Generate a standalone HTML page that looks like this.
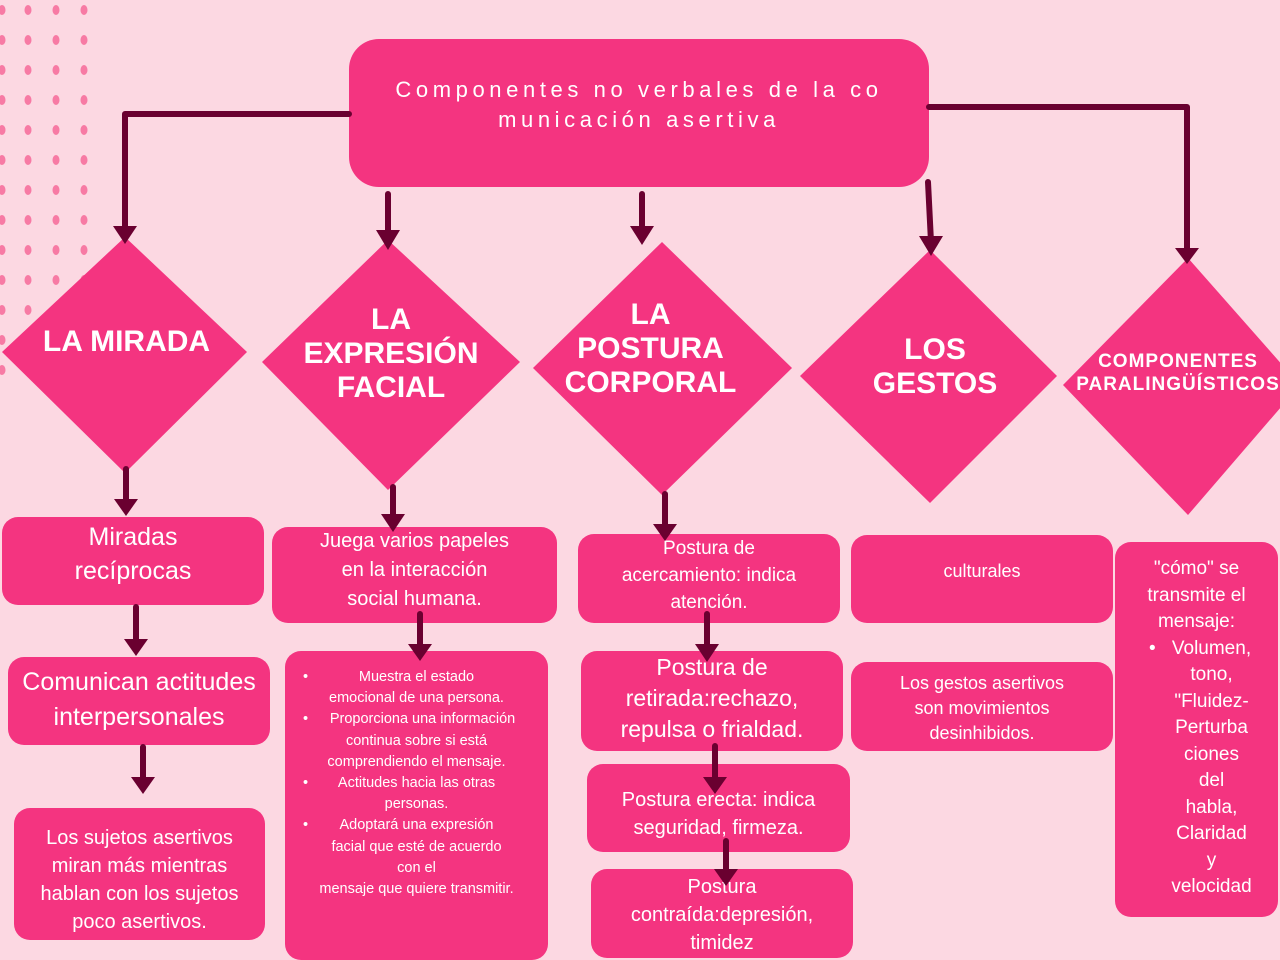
<!DOCTYPE html>
<html><head><meta charset="utf-8"><style>
body{margin:0;width:1280px;height:960px;overflow:hidden;background:#fcd8e2;position:relative;font-family:"Liberation Sans",sans-serif;color:#fff}
.b{position:absolute;background:#f43480;border-radius:16px;text-align:center;box-sizing:border-box}
.b div{white-space:nowrap}
.t{position:absolute;text-align:center;font-weight:bold;color:#fff;font-size:30px;line-height:34px;white-space:nowrap}
svg{position:absolute;left:0;top:0}
</style></head><body>
<svg width="1280" height="960">
<g fill="#f77aa4">
<g id="d">
<ellipse cx="2" cy="10" rx="3.5" ry="5"/><ellipse cx="28" cy="10" rx="3.5" ry="5"/><ellipse cx="56" cy="10" rx="3.5" ry="5"/><ellipse cx="84" cy="10" rx="3.5" ry="5"/>
</g>
<use href="#d" y="30"/><use href="#d" y="60"/><use href="#d" y="90"/><use href="#d" y="120"/><use href="#d" y="150"/><use href="#d" y="180"/><use href="#d" y="210"/><use href="#d" y="240"/><use href="#d" y="270"/><use href="#d" y="300"/><use href="#d" y="330"/><use href="#d" y="360"/>
</g>
<g fill="#f43480">
<polygon points="125,237 247,352 125,473 2,352"/>
<polygon points="388,240 520,362 388,490 262,362"/>
<polygon points="662,242 792,368 662,495 533,368"/>
<polygon points="930,250 1057,376 930,503 800,376"/>
<polygon points="1188,258 1300,385 1188,515 1063,385"/>
</g>
</svg>
<div class="b" style="left:349px;top:39px;width:580px;height:148px;border-radius:30px;font-size:22px;letter-spacing:4.6px;padding-top:36px;line-height:30px;font-weight:normal">
<div>Componentes no verbales de la co</div><div>municación asertiva</div></div>

<div class="t" style="left:4px;top:325px;width:245px">LA MIRADA</div>
<div class="t" style="left:262px;top:303px;width:258px">LA<br>EXPRESIÓN<br>FACIAL</div>
<div class="t" style="left:533px;top:298px;width:235px">LA<br>POSTURA<br>CORPORAL</div>
<div class="t" style="left:800px;top:333px;width:270px">LOS<br>GESTOS</div>
<div class="t" style="left:1063px;top:350px;width:230px;font-size:19px;line-height:23px;letter-spacing:1px">COMPONENTES<br>PARALINGÜÍSTICOS</div>

<div class="b" style="left:2px;top:517px;width:262px;height:88px;font-size:25px;line-height:34px;padding-top:3px"><div>Miradas</div><div>recíprocas</div></div>
<div class="b" style="left:8px;top:657px;width:262px;height:88px;font-size:25px;line-height:35px;padding-top:8px"><div>Comunican actitudes</div><div>interpersonales</div></div>
<div class="b" style="left:14px;top:808px;width:251px;height:132px;font-size:20px;line-height:28px;padding-top:16px"><div>Los sujetos asertivos</div><div>miran más mientras</div><div>hablan con los sujetos</div><div>poco asertivos.</div></div>

<div class="b" style="left:272px;top:527px;width:285px;height:96px;font-size:20px;line-height:29px;padding-top:0px"><div>Juega varios papeles</div><div>en la interacción</div><div>social humana.</div></div>
<div class="b" style="left:285px;top:651px;width:263px;height:309px;font-size:14.5px;line-height:21.2px;padding-top:16px">
<div style="position:relative">Muestra el estado<span style="position:absolute;left:18px">•</span></div><div>emocional de una persona.</div>
<div style="position:relative">&nbsp;&nbsp;&nbsp;Proporciona una información<span style="position:absolute;left:18px">•</span></div><div>continua sobre si está</div><div>comprendiendo el mensaje.</div>
<div style="position:relative">Actitudes hacia las otras<span style="position:absolute;left:18px">•</span></div><div>personas.</div>
<div style="position:relative">Adoptará una expresión<span style="position:absolute;left:18px">•</span></div><div>facial que esté de acuerdo</div><div>con el</div><div>mensaje que quiere transmitir.</div></div>

<div class="b" style="left:578px;top:534px;width:262px;height:89px;font-size:19px;line-height:27px;padding-top:1px"><div>Postura de</div><div>acercamiento: indica</div><div>atención.</div></div>
<div class="b" style="left:581px;top:651px;width:262px;height:100px;font-size:23px;line-height:31px;padding-top:1px"><div>Postura de</div><div>retirada:rechazo,</div><div>repulsa o frialdad.</div></div>
<div class="b" style="left:587px;top:764px;width:263px;height:88px;font-size:20px;line-height:28px;padding-top:22px"><div>Postura erecta: indica</div><div>seguridad, firmeza.</div></div>
<div class="b" style="left:591px;top:869px;width:262px;height:89px;font-size:20px;line-height:28px;padding-top:4px"><div>Postura</div><div>contraída:depresión,</div><div>timidez</div></div>

<div class="b" style="left:851px;top:535px;width:262px;height:88px;font-size:18px;line-height:24px;padding-top:24px"><div>culturales</div></div>
<div class="b" style="left:851px;top:662px;width:262px;height:89px;font-size:18px;line-height:25px;padding-top:9px"><div>Los gestos asertivos</div><div>son movimientos</div><div>desinhibidos.</div></div>

<div class="b" style="left:1115px;top:542px;width:163px;height:375px;font-size:19px;line-height:26.5px;padding-top:14px"><div>"cómo" se</div><div>transmite el</div><div>mensaje:</div>
<div style="position:relative;padding-left:30px">Volumen,<span style="position:absolute;left:34px">•</span></div>
<div style="padding-left:30px">tono,</div><div style="padding-left:30px">"Fluidez-</div><div style="padding-left:30px">Perturba</div><div style="padding-left:30px">ciones</div><div style="padding-left:30px">del</div><div style="padding-left:30px">habla,</div><div style="padding-left:30px">Claridad</div><div style="padding-left:30px">y</div><div style="padding-left:30px">velocidad</div></div>

<svg width="1280" height="960">
<g stroke="#6a0030" stroke-width="6" fill="none" stroke-linecap="round" stroke-linejoin="round">
<polyline points="349,114 125,114 125,232"/>
<polyline points="929,107 1187,107 1187,252"/>
<line x1="388" y1="194" x2="388" y2="235"/>
<line x1="642" y1="194" x2="642" y2="232"/>
<line x1="928" y1="182" x2="931" y2="242"/>
<line x1="126" y1="469" x2="126" y2="505"/>
<line x1="393" y1="487" x2="393" y2="520"/>
<line x1="665" y1="494" x2="665" y2="530"/>
<line x1="136" y1="607" x2="136" y2="645"/>
<line x1="420" y1="614" x2="420" y2="650"/>
<line x1="707" y1="614" x2="707" y2="650"/>
<line x1="143" y1="747" x2="143" y2="783"/>
<line x1="715" y1="746" x2="715" y2="783"/>
<line x1="726" y1="841" x2="726" y2="875"/>
</g>
<g fill="#6a0030">
<polygon points="113,226 137,226 125,244"/>
<polygon points="1175,248 1199,248 1187,264"/>
<polygon points="376,230 400,230 388,250"/>
<polygon points="630,226 654,226 642,245"/>
<polygon points="919,236 943,236 931,256"/>
<polygon points="114,499 138,499 126,516"/>
<polygon points="381,514 405,514 393,532"/>
<polygon points="653,524 677,524 665,541"/>
<polygon points="124,639 148,639 136,656"/>
<polygon points="408,644 432,644 420,661"/>
<polygon points="695,644 719,644 707,662"/>
<polygon points="131,777 155,777 143,794"/>
<polygon points="703,777 727,777 715,794"/>
<polygon points="714,869 738,869 726,886"/>
</g>
</svg>
</body></html>
